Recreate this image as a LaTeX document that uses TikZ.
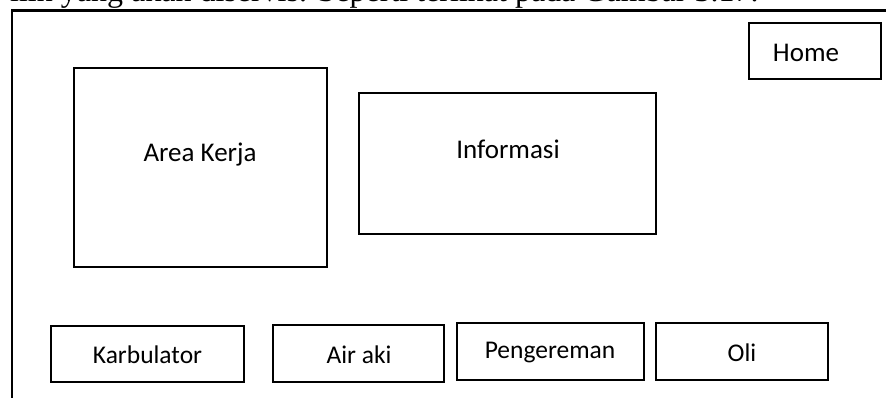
\documentclass[tikz,border=0pt]{standalone}
\usepackage{fontspec}
\setmainfont{Carlito}
\newfontfamily\bodyserif{Liberation Serif}
\begin{document}
\begin{tikzpicture}[x=1pt,y=-1pt,
  frame/.style={line width=2.2pt},
  box/.style={draw, line width=2.2pt, inner sep=0pt},
  lbl/.style={inner sep=0pt, anchor=base, font=\fontsize{27}{32}\selectfont},
  small/.style={inner sep=0pt, anchor=base, font=\fontsize{25.5}{30}\selectfont},
  body/.style={inner sep=0pt, anchor=base west, font=\bodyserif\fontsize{32}{38}\selectfont}]
\useasboundingbox (0,0) rectangle (886,398);
\clip (0,0) rectangle (886,398);
\fill[white] (0,0) rectangle (886,398);

% running text of the page, cut by the page edge
\node[body] (bodyline) at (10,2) {ilih yang akan diservis. Seperti terlihat pada Gambar 3.17.};

% screen frame
\coordinate (frameTR) at (890,10.5);
\coordinate (frameTL) at (12,10.5);
\coordinate (frameBL) at (12,402);
\draw[frame] (frameTR) -- (frameTL) -- (frameBL);

% top area
\node[box, minimum width=132pt, minimum height=56pt] (home) at (815,51) {};
\node[lbl] (homeText) at (806,62) {Home};

\node[box, minimum width=253pt, minimum height=199pt] (area) at (200.5,167.5) {};
\node[lbl] (areaText) at (200,162) {Area Kerja};

\node[box, minimum width=297pt, minimum height=141pt] (info) at (507.5,163.5) {};
\node[lbl] (infoText) at (508,159) {Informasi};

% service buttons
\node[box, minimum width=193pt, minimum height=56pt] (karb) at (147.5,354) {};
\node[small] (karbText) at (147.5,363) {Karbulator};

\node[box, minimum width=171pt, minimum height=57pt] (aki) at (358.5,353.5) {};
\node[small] (akiText) at (359,363) {Air aki};

\node[box, minimum width=187pt, minimum height=57pt] (rem) at (550.5,351.5) {};
\node[small] (remText) at (550,358) {Pengereman};

\node[box, minimum width=172pt, minimum height=57pt] (oli) at (742,351.5) {};
\node[small] (oliText) at (742,361) {Oli};
\end{tikzpicture}
\end{document}
